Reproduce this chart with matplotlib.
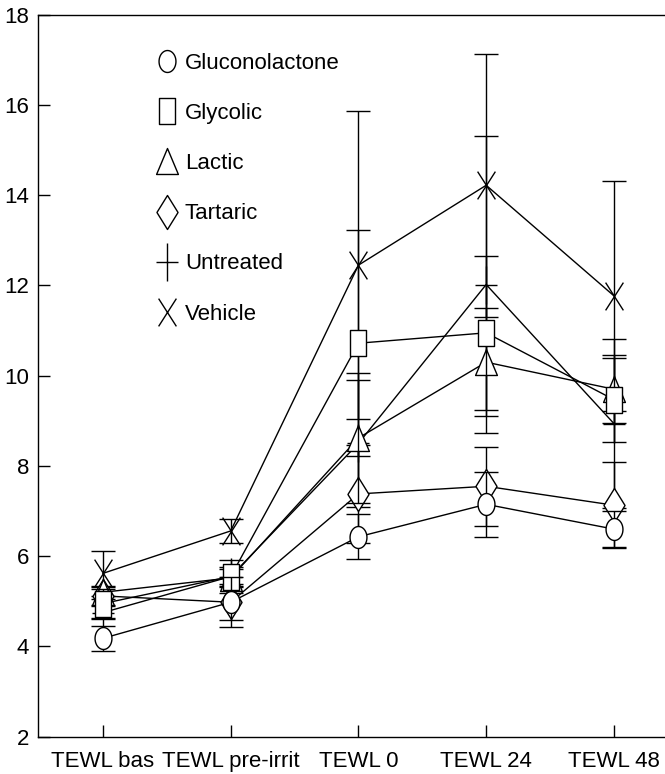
import numpy as np
import matplotlib
matplotlib.use("Agg")
import matplotlib.pyplot as plt
from matplotlib.path import Path
from matplotlib.lines import Line2D

categories = ["TEWL bas", "TEWL pre-irrit", "TEWL 0", "TEWL 24", "TEWL 48"]
series_names = ["Gluconolactone", "Glycolic", "Lactic", "Tartaric", "Untreated", "Vehicle"]

gluconolactone = [4.18, 4.98, 6.43, 7.15, 6.60]
gluconolactone_err = [0.28, 0.55, 0.50, 0.72, 0.40]
glycolic = [4.95, 5.55, 10.72, 10.95, 9.47]
glycolic_err = [0.33, 0.37, 2.50, 1.70, 0.93]
lactic = [5.20, 5.52, 8.62, 10.30, 9.70]
lactic_err = [0.15, 0.20, 1.45, 1.20, 0.75]
tartaric = [5.12, 4.98, 7.38, 7.55, 7.13]
tartaric_err = [0.20, 0.40, 1.09, 0.88, 0.95]
untreated = [4.75, 5.55, 8.50, 12.02, 8.94]
untreated_err = [0.15, 0.20, 1.40, 3.30, 1.87]
vehicle = [5.62, 6.56, 12.45, 14.22, 11.77]
vehicle_err = [0.50, 0.26, 3.42, 2.91, 2.55]

yticks = [2, 4, 6, 8, 10, 12, 14, 16, 18]


def closed(verts):
    codes = [Path.MOVETO] + [Path.LINETO] * (len(verts) - 1) + [Path.CLOSEPOLY]
    return Path(list(verts) + [verts[0]], codes)


t = np.linspace(0, 2 * np.pi, 60)
ellipse = closed(list(zip(0.385 * np.cos(t), 0.5 * np.sin(t))))
rect = closed([(-0.327, -0.5), (0.327, -0.5), (0.327, 0.5), (-0.327, 0.5)])
tri = closed([(-0.42, -0.5), (0.42, -0.5), (0, 0.5)])
diamond = closed([(0, -0.5), (0.31, 0), (0, 0.5), (-0.31, 0)])
plus = Path([(-0.3, 0), (0.3, 0), (0, -0.5), (0, 0.5)],
            [Path.MOVETO, Path.LINETO, Path.MOVETO, Path.LINETO])
cross = Path([(-0.32, -0.5), (0.32, 0.5), (-0.32, 0.5), (0.32, -0.5)],
             [Path.MOVETO, Path.LINETO, Path.MOVETO, Path.LINETO])

# (values, errors, marker, markersize in pt)
series = [
    (vehicle, vehicle_err, cross, 20),
    (untreated, untreated_err, plus, 27.4),
    (tartaric, tartaric_err, diamond, 24.5),
    (lactic, lactic_err, tri, 18.7),
    (glycolic, glycolic_err, rect, 18.7),
    (gluconolactone, gluconolactone_err, ellipse, 15.8),
]
legend_markers = {
    "Gluconolactone": (ellipse, 15.8),
    "Glycolic": (rect, 18.7),
    "Lactic": (tri, 18.7),
    "Tartaric": (diamond, 24.5),
    "Untreated": (plus, 27.4),
    "Vehicle": (cross, 20),
}

plt.rcParams["font.family"] = ["Liberation Sans", "DejaVu Sans"]
plt.rcParams["font.size"] = 16

fig = plt.figure(figsize=(6.65, 7.74), dpi=100)
ax = fig.add_axes([37.7 / 665, 1 - 736.7 / 774, 1 - 37.7 / 665, (736.7 - 14.7) / 774])

x = np.arange(len(categories))
for i, (vals, errs, mk, ms) in enumerate(series):
    ax.errorbar(x, vals, yerr=errs, color="black", lw=1.0, elinewidth=1.0,
                capsize=8.3, capthick=1.0, marker=mk, markersize=ms,
                markerfacecolor="white", markeredgecolor="black",
                markeredgewidth=1.0, zorder=2 + i * 0.2, clip_on=False)

ax.set_xlim(-0.511, 4.40)
ax.set_ylim(2, 18)
ax.set_xticks(x)
ax.set_xticklabels(categories)
ax.set_yticks(yticks)
ax.tick_params(direction="in", length=8.6, width=1.0, color="black")
ax.tick_params(axis="y", pad=6)
ax.tick_params(axis="x", pad=10)
ax.spines["right"].set_visible(False)
for s in ["left", "bottom", "top"]:
    ax.spines[s].set_linewidth(1.0)

handles = [Line2D([], [], ls="none", marker=legend_markers[n][0],
                  markersize=legend_markers[n][1], markerfacecolor="white",
                  markeredgecolor="black", markeredgewidth=1.0)
           for n in series_names]
ax.legend(handles, series_names, loc="upper left",
          bbox_to_anchor=(157 / 665, 1 - 53 / 774), bbox_transform=fig.transFigure,
          frameon=False, handlelength=0.9, handletextpad=0.35, labelspacing=1.31,
          borderpad=0, borderaxespad=0, fontsize=16)

fig.savefig("out.png", dpi=100)
